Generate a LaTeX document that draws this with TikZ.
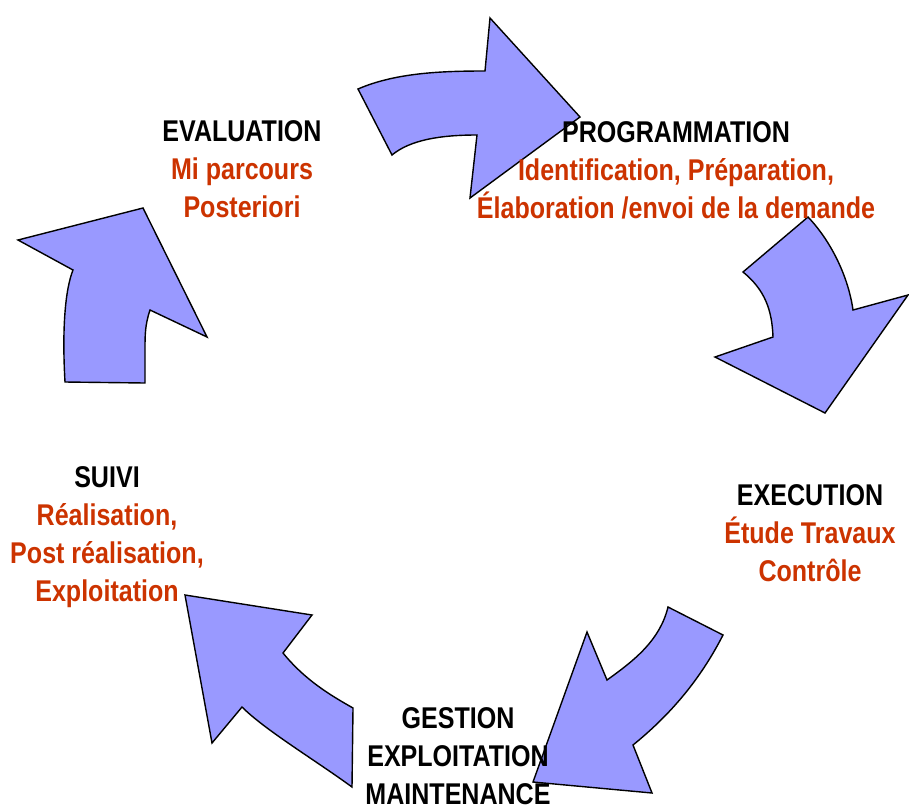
\documentclass[tikz,border=0pt]{standalone}
\usepackage{fontspec}
\setmainfont{Liberation Sans}[FakeStretch=0.835]
\definecolor{arrowfill}{RGB}{153,153,255}
\definecolor{labelred}{RGB}{204,51,0}
\begin{document}
\begin{tikzpicture}[x=1pt,y=-1pt,
  cyclearrow/.style={draw=black,line width=1.4pt,fill=arrowfill,line join=miter},
  label/.style={align=center,inner sep=0pt,anchor=base,font=\fontsize{30}{38}\selectfont\bfseries}]
\useasboundingbox (0,0) rectangle (909,811);
% arrow 1 (top)
\draw[cyclearrow] (358,89) .. controls (395,73) and (440,71) .. (485,71)
  -- (490,18) -- (580,117) -- (470,198) -- (477,135)
  .. controls (440,135) and (410,140) .. (392,155) -- cycle;
% arrow 2 (right top)
\draw[cyclearrow] (808,217) .. controls (830,240) and (848,275) .. (853,310)
  -- (908,295) -- (825,413) -- (715,357) -- (773,337)
  .. controls (772,310) and (765,290) .. (743,272) -- cycle;
% arrow 3 (bottom right)
\draw[cyclearrow] (668,607) -- (723,635)
  .. controls (700,680) and (670,715) .. (633,745)
  -- (652,793) -- (533,782) -- (587,632) -- (607,680)
  .. controls (635,660) and (660,640) .. cycle;
% arrow 4 (bottom left)
\draw[cyclearrow] (185,595) -- (312,615) -- (283,653)
  .. controls (305,680) and (330,695) .. (353,708) -- (352,787)
  .. controls (315,760) and (265,730) .. (242,707) -- (212,743) -- cycle;
% arrow 5 (left)
\draw[cyclearrow] (18,240) -- (143,208) -- (207,337) -- (150,310)
  .. controls (145,325) and (145,335) .. (145,350) -- (145,383) -- (65,382)
  .. controls (62,330) and (65,290) .. (73,270) -- cycle;
% labels (anchor = baseline of the last line)
\node[label] (eval) at (242,217) {EVALUATION\\\textcolor{labelred}{Mi parcours}\\\textcolor{labelred}{Posteriori}};
\node[label] (prog) at (676,218) {PROGRAMMATION\\\textcolor{labelred}{Identification, Préparation,}\\\textcolor{labelred}{Élaboration /envoi de la demande}};
\node[label] (exec) at (810,581) {EXECUTION\\\textcolor{labelred}{Étude Travaux}\\\textcolor{labelred}{Contrôle}};
\node[label] (gest) at (458,804) {GESTION\\EXPLOITATION\\MAINTENANCE};
\node[label] (suivi) at (107,601) {SUIVI\\\textcolor{labelred}{Réalisation,}\\\textcolor{labelred}{Post réalisation,}\\\textcolor{labelred}{Exploitation}};
\end{tikzpicture}
\end{document}
